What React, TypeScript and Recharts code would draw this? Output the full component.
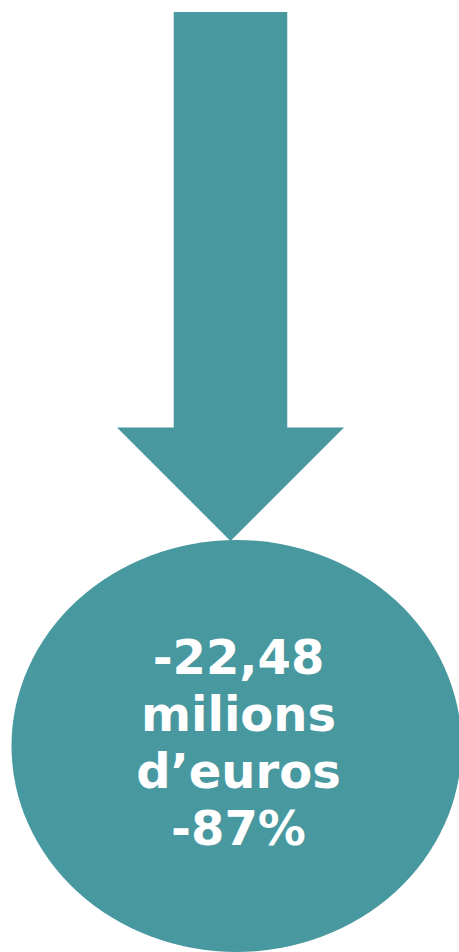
import { Bar, BarChart, XAxis, YAxis } from "recharts";

const categories = ["Variació"];
const changeMillions = [-22.48];
const changePercent = [-87];
const unitLines = ["milions", "d’euros"];

const TEAL = "#4898a0";

const data = categories.map((name, i) => ({
  name,
  drop: Math.abs(changeMillions[i]),
  millions: changeMillions[i],
  pct: changePercent[i],
}));

const fmtMillions = (v: number) => v.toFixed(2).replace(".", ",");

function ArrowShape(props: any) {
  const { x, width, payload } = props;
  const y = Math.min(props.y, props.y + props.height);
  const height = Math.abs(props.height);
  const cx = x + width / 2;
  const shaft = width / 2;
  const head = width / 2;
  const bottom = y + height;
  const neck = bottom - head;
  const points = [
    [cx - shaft / 2, y],
    [cx + shaft / 2, y],
    [cx + shaft / 2, neck],
    [x + width, neck],
    [cx, bottom],
    [x, neck],
    [cx - shaft / 2, neck],
  ]
    .map((p) => p.join(","))
    .join(" ");
  const ex = cx + 6;
  const ey = bottom + 205;
  const lines = [fmtMillions(payload.millions), ...unitLines, `${payload.pct}%`];
  return (
    <g>
      <polygon points={points} fill={TEAL} />
      <ellipse cx={ex} cy={ey} rx={225} ry={206} fill={TEAL} />
      <text
        x={ex + 2}
        textAnchor="middle"
        fill="#ffffff"
        fontFamily="'DejaVu Sans', Verdana, sans-serif"
        fontWeight="bold"
        fontSize={48}
      >
        {lines.map((line, i) => (
          <tspan key={i} x={ex + 2} y={bottom + 133 + i * 57}>
            {line}
          </tspan>
        ))}
      </text>
    </g>
  );
}

export default function App() {
  return (
    <div style={{ position: "absolute", left: 0, top: 0, background: "#fff" }}>
      <BarChart
        width={459}
        height={952}
        data={data}
        margin={{ top: 12, right: 0, bottom: 411, left: 2 }}
      >
        <XAxis dataKey="name" hide />
        <YAxis hide domain={[0, 22.48]} />
        <Bar dataKey="drop" barSize={227} shape={ArrowShape} isAnimationActive={false} />
      </BarChart>
    </div>
  );
}
